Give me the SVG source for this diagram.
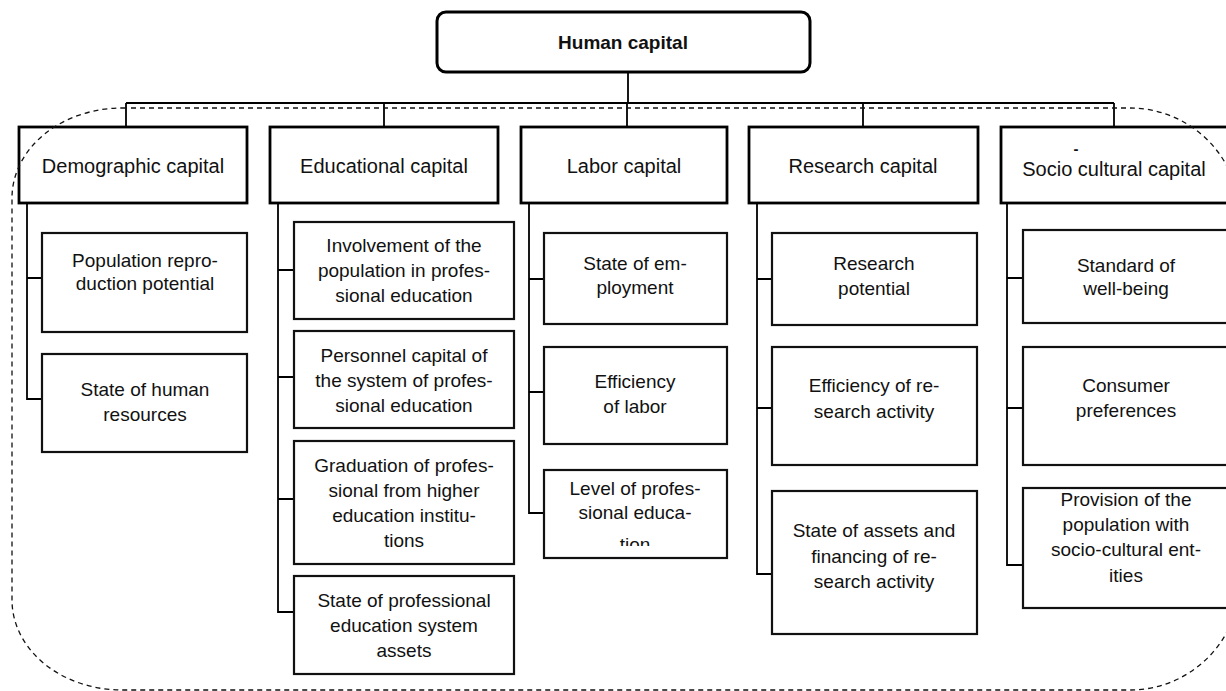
<svg xmlns="http://www.w3.org/2000/svg" width="1226" height="691" viewBox="0 0 1226 691">
<style>
  text { font-family: "Liberation Sans", Arial, sans-serif; fill: #111; text-anchor: middle; }
  .t1 { font-size: 20px; }
  .t2 { font-size: 19px; }
  .hy { font-size: 15px; font-weight: bold; }
  .root { font-size: 19px; font-weight: bold; }
  .rootbox { fill: #fff; stroke: #000; stroke-width: 3; }
  .l1 { fill: none; stroke: #000; stroke-width: 2.8; }
  .l2 { fill: none; stroke: #111; stroke-width: 2.2; }
  .conn { fill: none; stroke: #000; stroke-width: 1.8; }
  .dash { fill: none; stroke: #111; stroke-width: 1.3; stroke-dasharray: 5 4; }
</style>
<defs>
  <clipPath id="clipTion"><rect x="540" y="460" width="190" height="86"/></clipPath>
</defs>
<rect width="1226" height="691" fill="#fff"/>

<g id="connectors">
  <path class="conn" d="M628 72 V103 M126 103 H1114 M126 103 V127 M384 103 V127 M627 103 V127 M863 103 V127 M1114 103 V127"/>
  <path class="conn" d="M27 203 V399 H42 M27 278 H42"/>
  <path class="conn" d="M278 203 V612 H294 M278 270 H294 M278 377 H294 M278 499 H294"/>
  <path class="conn" d="M529 203 V513 H544 M529 279 H544 M529 392 H544"/>
  <path class="conn" d="M757 203 V574 H772 M757 279 H772 M757 408 H772"/>
  <path class="conn" d="M1007 203 V565 H1023 M1007 278 H1023 M1007 408 H1023"/>
</g>

<g id="human-capital">
  <rect class="rootbox" x="437" y="12" width="373" height="60" rx="9"/>
  <text class="root" x="623" y="49">Human capital</text>
</g>

<g id="demographic-capital">
  <rect class="l1" x="19" y="127" width="228" height="76"/>
  <text class="t1" x="133" y="173">Demographic capital</text>
</g>
<g id="educational-capital">
  <rect class="l1" x="270" y="127" width="228" height="76"/>
  <text class="t1" x="384" y="173">Educational capital</text>
</g>
<g id="labor-capital">
  <rect class="l1" x="521" y="127" width="206" height="76"/>
  <text class="t1" x="624" y="173">Labor capital</text>
</g>
<g id="research-capital">
  <rect class="l1" x="749" y="127" width="229" height="76"/>
  <text class="t1" x="863" y="173">Research capital</text>
</g>
<g id="socio-cultural-capital">
  <rect class="l1" x="1001" y="127" width="229" height="76"/>
  <text class="hy" x="1076" y="154">-</text>
  <text class="t1" x="1114" y="176">Socio cultural capital</text>
</g>

<g id="population-reproduction-potential">
  <rect class="l2" x="42" y="233" width="205" height="99"/>
  <text class="t2" x="145" y="267">Population repro-</text>
  <text class="t2" x="145" y="290">duction potential</text>
</g>
<g id="state-of-human-resources">
  <rect class="l2" x="42" y="354" width="205" height="98"/>
  <text class="t2" x="145" y="396">State of human</text>
  <text class="t2" x="145" y="421">resources</text>
</g>

<g id="involvement">
  <rect class="l2" x="294" y="222" width="220" height="97"/>
  <text class="t2" x="404" y="252">Involvement of the</text>
  <text class="t2" x="404" y="277">population in profes-</text>
  <text class="t2" x="404" y="302">sional education</text>
</g>
<g id="personnel-capital">
  <rect class="l2" x="294" y="331" width="220" height="97"/>
  <text class="t2" x="404" y="362">Personnel capital of</text>
  <text class="t2" x="404" y="387">the system of profes-</text>
  <text class="t2" x="404" y="412">sional education</text>
</g>
<g id="graduation">
  <rect class="l2" x="294" y="441" width="220" height="123"/>
  <text class="t2" x="404" y="472">Graduation of profes-</text>
  <text class="t2" x="404" y="497">sional from higher</text>
  <text class="t2" x="404" y="522">education institu-</text>
  <text class="t2" x="404" y="547">tions</text>
</g>
<g id="state-of-pe-assets">
  <rect class="l2" x="294" y="576" width="220" height="98"/>
  <text class="t2" x="404" y="607">State of professional</text>
  <text class="t2" x="404" y="632">education system</text>
  <text class="t2" x="404" y="657">assets</text>
</g>

<g id="state-of-employment">
  <rect class="l2" x="544" y="233" width="183" height="91"/>
  <text class="t2" x="635" y="270">State of em-</text>
  <text class="t2" x="635" y="294">ployment</text>
</g>
<g id="efficiency-of-labor">
  <rect class="l2" x="544" y="347" width="183" height="97"/>
  <text class="t2" x="635" y="388">Efficiency</text>
  <text class="t2" x="635" y="413">of labor</text>
</g>
<g id="level-of-professional-education">
  <rect class="l2" x="544" y="470" width="183" height="88"/>
  <text class="t2" x="635" y="495">Level of profes-</text>
  <text class="t2" x="635" y="519">sional educa-</text>
  <text class="t2" x="635" y="551" clip-path="url(#clipTion)">tion</text>
</g>

<g id="research-potential">
  <rect class="l2" x="772" y="233" width="205" height="92"/>
  <text class="t2" x="874" y="270">Research</text>
  <text class="t2" x="874" y="295">potential</text>
</g>
<g id="efficiency-of-research">
  <rect class="l2" x="772" y="347" width="205" height="118"/>
  <text class="t2" x="874" y="392">Efficiency of re-</text>
  <text class="t2" x="874" y="418">search activity</text>
</g>
<g id="state-of-assets-research">
  <rect class="l2" x="772" y="491" width="205" height="143"/>
  <text class="t2" x="874" y="537">State of assets and</text>
  <text class="t2" x="874" y="563">financing of re-</text>
  <text class="t2" x="874" y="588">search activity</text>
</g>

<g id="standard-of-well-being">
  <rect class="l2" x="1023" y="230" width="206" height="93"/>
  <text class="t2" x="1126" y="272">Standard of</text>
  <text class="t2" x="1126" y="295">well-being</text>
</g>
<g id="consumer-preferences">
  <rect class="l2" x="1023" y="347" width="206" height="118"/>
  <text class="t2" x="1126" y="392">Consumer</text>
  <text class="t2" x="1126" y="417">preferences</text>
</g>
<g id="provision">
  <rect class="l2" x="1023" y="488" width="206" height="120"/>
  <text class="t2" x="1126" y="506">Provision of the</text>
  <text class="t2" x="1126" y="531">population with</text>
  <text class="t2" x="1126" y="556">socio-cultural ent-</text>
  <text class="t2" x="1126" y="582">ities</text>
</g>

<g id="boundary">
  <path class="dash" d="M122 108 H1130 A110 110 0 0 1 1240 218 V580 A110 110 0 0 1 1130 690 H122 A110 90 0 0 1 12 600 V198 A110 90 0 0 1 122 108 Z"/>
</g>
</svg>
